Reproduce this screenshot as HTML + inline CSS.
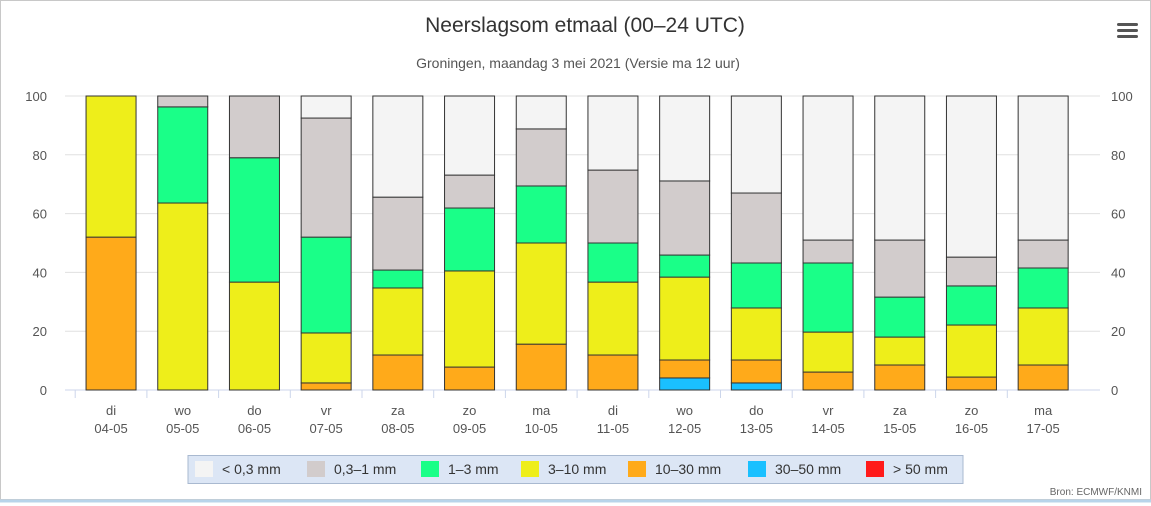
<!DOCTYPE html>
<html><head><meta charset="utf-8"><style>
body{margin:0;background:#fff;font-family:"Liberation Sans",sans-serif;}
#wrap{position:relative;width:1151px;height:506px;overflow:hidden;}
svg text{font-family:"Liberation Sans",sans-serif;}
</style></head><body>
<div id="wrap">
<svg id="chart" width="1151" height="506">
<rect x="0.5" y="0.5" width="1150" height="499" fill="#fff" stroke="#c8c8c8"/>
<line x1="0" y1="501" x2="1151" y2="501" stroke="#b8d4ea" stroke-width="3"/>
<text x="585" y="32" text-anchor="middle" font-size="21" fill="#333">Neerslagsom etmaal (00–24 UTC)</text>
<text x="578" y="68" text-anchor="middle" font-size="14" fill="#555">Groningen, maandag 3 mei 2021 (Versie ma 12 uur)</text>
<g>
<rect x="1117" y="23" width="21" height="3" rx="1.5" fill="#555"/><rect x="1117" y="29" width="21" height="3" rx="1.5" fill="#555"/><rect x="1117" y="35" width="21" height="3" rx="1.5" fill="#555"/>
</g>
<g id="grid"></g><g id="bars"></g><g id="labels"></g>
<g>
<rect x="188" y="455.5" width="775" height="28" fill="#dce6f5" stroke="#a9b9d0"/>
<g id="legend"></g>
</g>
<text x="1142" y="495" text-anchor="end" font-size="10" fill="#666">Bron: ECMWF/KNMI</text>
</svg>
</div>
<script>
const categories=["di|04-05","wo|05-05","do|06-05","vr|07-05","za|08-05","zo|09-05","ma|10-05","di|11-05","wo|12-05","do|13-05","vr|14-05","za|15-05","zo|16-05","ma|17-05"];
const seriesNames=["> 50 mm","30–50 mm","10–30 mm","3–10 mm","1–3 mm","0,3–1 mm","< 0,3 mm"];
const red=[0,0,0,0,0,0,0,0,0,0,0,0,0,0];
const blue=[0,0,0,0,0,0,0,0,4.1,2.4,0,0,0,0];
const orange=[52,0,0,2.4,11.9,7.8,15.6,11.9,6.1,7.8,6.1,8.5,4.4,8.5];
const yellow=[48,63.6,36.7,17,22.8,32.7,34.4,24.8,28.2,17.7,13.6,9.5,17.7,19.4];
const green=[0,32.7,42.3,32.6,6.1,21.4,19.4,13.3,7.5,15.3,23.5,13.6,13.3,13.6];
const grey=[0,3.7,21,40.5,24.8,11.2,19.4,24.8,25.2,23.8,7.8,19.4,9.8,9.5];
const white=[0,0,0,7.5,34.4,26.9,11.2,25.2,28.9,33,49,49,54.8,49];
const yTicks=[0,20,40,60,80,100];
const legendOrder=["< 0,3 mm","0,3–1 mm","1–3 mm","3–10 mm","10–30 mm","30–50 mm","> 50 mm"];

const colors=["#ff1a1a","#1ac0ff","#ffaa1a","#eeee1a","#1aff88","#d2cccc","#f4f4f4"];
const series=[red,blue,orange,yellow,green,grey,white];
const NS="http://www.w3.org/2000/svg";
const x0=75.2,x1=1079,yTop=96,yBot=390,gx0=65,gx1=1100;
const slot=(x1-x0)/categories.length, bw=50;
const xc=i=>x0+slot*(i+0.5);
const ys=v=>yBot-(v/100)*(yBot-yTop);
function mk(t,a,p){const e=document.createElementNS(NS,t);for(const k in a)e.setAttribute(k,a[k]);p.appendChild(e);return e;}
const grid=document.getElementById('grid'),bars=document.getElementById('bars'),lab=document.getElementById('labels');
yTicks.forEach(v=>{
 const l=mk('line',{x1:gx0,x2:gx1,y1:ys(v),y2:ys(v),stroke:v===0?'#ccd6eb':'#e0e0e0'},grid);
 
 
 const t=mk('text',{x:47,y:ys(v)+5,'text-anchor':'end','font-size':13,fill:'#555'},lab);t.textContent=v;
 
 
 const t2=mk('text',{x:1111,y:ys(v)+5,'text-anchor':'start','font-size':13,fill:'#555'},lab);t2.textContent=v;
 
 
});
categories.forEach((c,i)=>{
 let acc=0;
 series.forEach((s,k)=>{
  const v=s[i]; if(v<=0)return;
  const r=mk('rect',{x:xc(i)-bw/2,y:ys(acc+v),width:bw,height:ys(acc)-ys(acc+v),fill:colors[k],stroke:'#333','stroke-width':1},bars);
  
  
  acc+=v;
 });
 const [d,dt]=c.split('|');
 const t=mk('text',{x:xc(i),y:415,'text-anchor':'middle','font-size':13,fill:'#555'},lab);t.textContent=d;
 
 
 const t2=mk('text',{x:xc(i),y:433,'text-anchor':'middle','font-size':13,fill:'#555'},lab);t2.textContent=dt;
 
 
 mk('line',{x1:x0+slot*i,x2:x0+slot*i,y1:yBot,y2:yBot+8,stroke:'#ccd6eb'},grid);
});
const leg=document.getElementById('legend');
const legX=[195,307,421,521,628,748,866];
legendOrder.forEach((n,j)=>{
 const k=seriesNames.indexOf(n);
 const g=mk('g',{},leg);
 
 
 mk('rect',{x:legX[j],y:461,width:18,height:16,fill:colors[k]},g);
 const t=mk('text',{x:legX[j]+27,y:474,'font-size':14,fill:'#333'},g);t.textContent=n;
});
</script>
</body></html>
